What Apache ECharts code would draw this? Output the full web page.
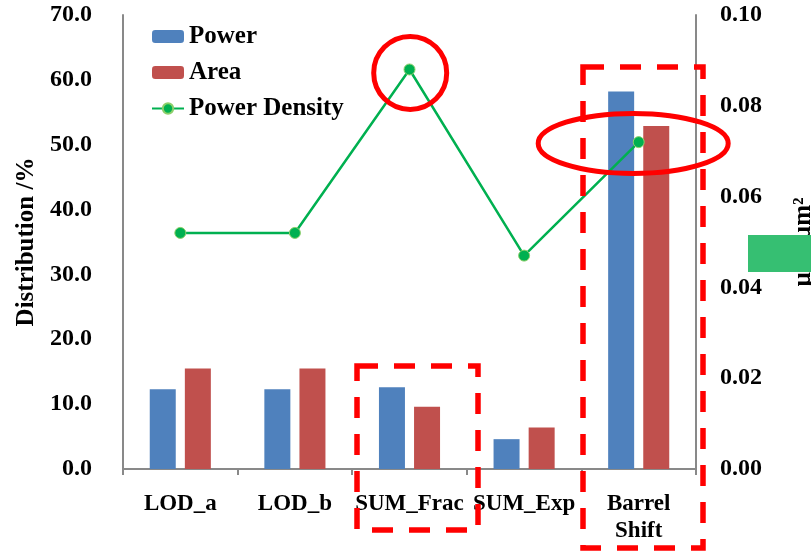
<!DOCTYPE html>
<html>
<head>
<meta charset="utf-8">
<script src="https://cdn.jsdelivr.net/npm/echarts@6/dist/echarts.min.js"></script>
<style>
  html, body { margin: 0; padding: 0; background: #fff; }
  #chart { width: 811px; height: 552px; }
</style>
</head>
<body>
<div id="chart"></div>
<script>
// Categories and series values
const categories = ['LOD_a', 'LOD_b', 'SUM_Frac', 'SUM_Exp', 'Barrel\nShift'];
const powerShare = [12.3, 12.3, 12.6, 4.6, 58.2];      // Distribution %
const areaShare = [15.5, 15.5, 9.6, 6.4, 52.9];        // Distribution %
const powerDensity = [0.052, 0.052, 0.088, 0.047, 0.072]; // µW/µm²

const leftTicks = { min: 0, max: 70, interval: 10 };
const rightTicks = { min: 0, max: 0.1, interval: 0.02 };

const FONT = 'Liberation Serif';
const AXIS_GREY = '#898989';

const chart = echarts.init(document.getElementById('chart'), null, { renderer: 'canvas' });

const textBase = { fontFamily: FONT, fontWeight: 'bold', color: '#000' };

chart.setOption({
  animation: false,
  backgroundColor: '#fff',
  grid: { left: 123, right: 115, top: 15, bottom: 83, containLabel: false, outerBoundsMode: 'none' },
  legend: {
    orient: 'vertical',
    left: 146,
    top: 19,
    itemWidth: 32,
    itemHeight: 13,
    itemGap: 11,
    textStyle: Object.assign({}, textBase, { fontSize: 25, lineHeight: 25 }),
    data: ['Power', 'Area', 'Power Density']
  },
  xAxis: {
    type: 'category',
    data: categories,
    axisLine: { lineStyle: { color: AXIS_GREY, width: 2 } },
    axisTick: { show: true, length: 6, lineStyle: { color: AXIS_GREY, width: 2 } },
    axisLabel: Object.assign({}, textBase, { fontSize: 23, lineHeight: 27, margin: 22, interval: 0 }),
    splitLine: { show: false }
  },
  yAxis: [
    {
      type: 'value',
      min: leftTicks.min, max: leftTicks.max, interval: leftTicks.interval,
      name: 'Distribution /%',
      nameLocation: 'middle',
      nameRotate: 90,
      nameGap: 82,
      nameTextStyle: Object.assign({}, textBase, { fontSize: 25 }),
      axisLine: { show: true, lineStyle: { color: AXIS_GREY, width: 2 } },
      axisTick: { show: false },
      axisLabel: Object.assign({}, textBase, {
        fontSize: 24, margin: 31,
        formatter: v => v.toFixed(1)
      }),
      splitLine: { show: false }
    },
    {
      type: 'value',
      position: 'right',
      min: rightTicks.min, max: rightTicks.max, interval: rightTicks.interval,
      name: 'µW/µm²',
      nameLocation: 'middle',
      nameRotate: 90,
      nameGap: 95,
      nameTextStyle: Object.assign({}, textBase, { fontSize: 25 }),
      axisLine: { show: true, lineStyle: { color: AXIS_GREY, width: 2 } },
      axisTick: { show: false },
      axisLabel: Object.assign({}, textBase, {
        fontSize: 24, margin: 24,
        formatter: v => v.toFixed(2)
      }),
      splitLine: { show: false }
    }
  ],
  series: [
    {
      name: 'Power',
      type: 'bar',
      data: powerShare,
      barWidth: 26,
      barGap: '35%',
      itemStyle: { color: '#4F81BD' }
    },
    {
      name: 'Area',
      type: 'bar',
      data: areaShare,
      barWidth: 26,
      itemStyle: { color: '#C0504D' }
    },
    {
      name: 'Power Density',
      type: 'line',
      yAxisIndex: 1,
      data: powerDensity,
      symbol: 'circle',
      symbolSize: 11,
      lineStyle: { color: '#00B050', width: 2.5 },
      itemStyle: { color: '#00B050', borderColor: '#8ccf6a', borderWidth: 1 },
      z: 5
    }
  ]
});

// Highlight annotations anchored on the density points
const peak = chart.convertToPixel({ seriesIndex: 2 }, [2, powerDensity[2]]);
const barrel = chart.convertToPixel({ seriesIndex: 2 }, [4, powerDensity[4]]);
const red = '#FF0000';

chart.setOption({
  graphic: [
    {
      type: 'rect', z: 100,
      shape: { x: 357, y: 366, width: 121, height: 164 },
      style: { fill: 'none', stroke: red, lineWidth: 5.5, lineDash: [21, 16] }
    },
    {
      type: 'rect', z: 100,
      shape: { x: 583, y: 67, width: 120, height: 481 },
      style: { fill: 'none', stroke: red, lineWidth: 5.5, lineDash: [21, 16] }
    },
    {
      type: 'circle', z: 101,
      shape: { cx: peak[0] + 0.7, cy: peak[1] + 3.4, r: 36.5 },
      style: { fill: 'none', stroke: red, lineWidth: 5 }
    },
    {
      type: 'ellipse', z: 101,
      shape: { cx: barrel[0] - 5.5, cy: barrel[1] + 1.3, rx: 95, ry: 30 },
      style: { fill: 'none', stroke: red, lineWidth: 5 }
    },
    {
      type: 'rect', z: 100,
      shape: { x: 748, y: 235, width: 63, height: 37 },
      style: { fill: '#36BF72' }
    }
  ]
});
</script>
</body>
</html>
